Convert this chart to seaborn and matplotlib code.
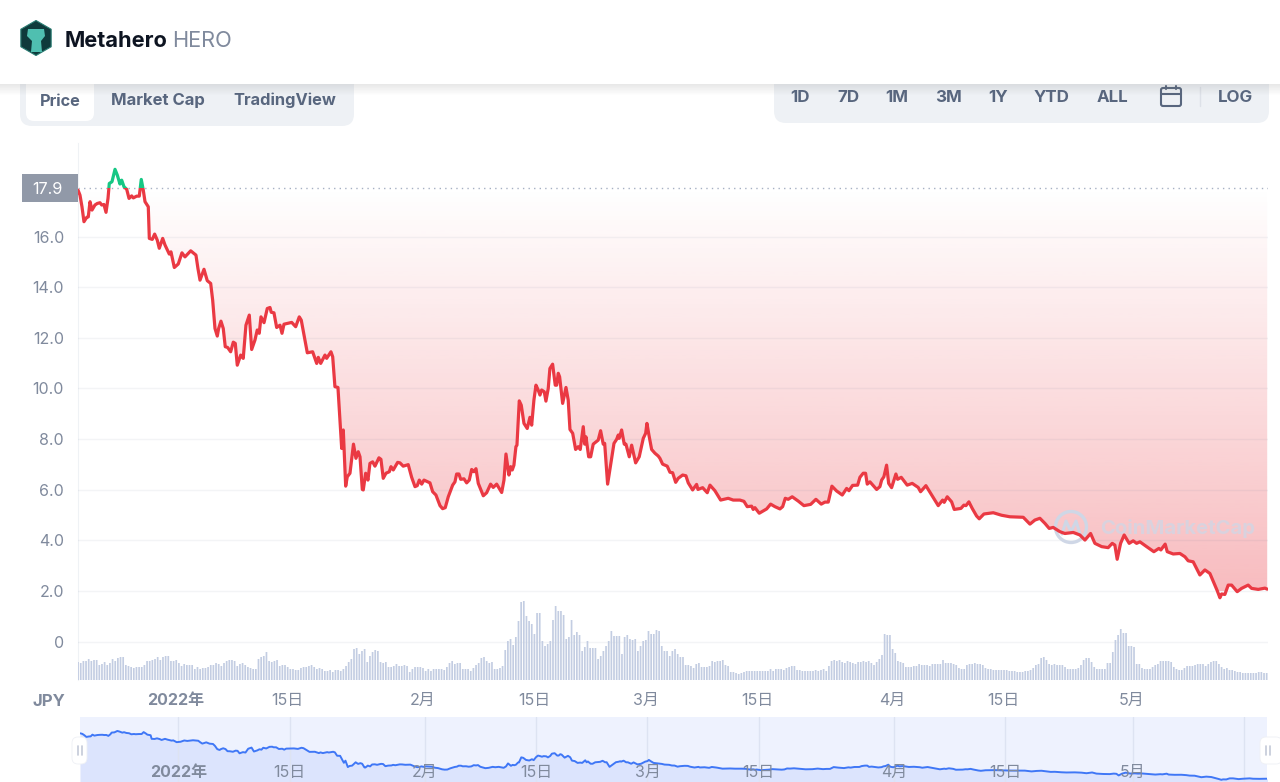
import numpy as np
import matplotlib
matplotlib.use('Agg')
import matplotlib.pyplot as plt
from matplotlib.patches import Rectangle, FancyBboxPatch, RegularPolygon, Polygon, Arc
import seaborn as sns

# price: days since 2022-01-01 and price in JPY
DAYS = [
    -12.31, -12.06, -11.81, -11.56, -11.22, -11.02, -10.80, -10.55, -10.18, -9.89, -9.55, -9.33, -9.05, -8.79,
    -8.54, -8.38, -8.04, -7.66, -7.37, -7.04, -6.82, -6.53, -6.19, -5.90, -5.57, -5.36, -4.94, -4.61, -4.36,
    -4.11, -3.89, -3.48, -3.35, -2.98, -2.68, -2.35, -2.10, -1.67, -1.38, -0.84, -0.63, -0.21, 0.29, 0.75, 1.13,
    1.85, 2.51, 2.76, 3.02, 3.52, 3.93, 4.36, 4.61, 4.90, 5.19, 5.36, 5.65, 5.94, 6.19, 6.49, 6.87, 7.20, 7.45,
    7.70, 8.13, 8.45, 8.79, 9.21, 9.51, 9.92, 10.21, 10.46, 10.68, 11.06, 11.47, 11.81, 11.97, 12.31, 12.65,
    13.07, 13.32, 13.57, 14.54, 15.04, 15.49, 15.74, 16.50, 17.17, 17.68, 17.88, 18.18, 18.72, 18.93, 19.47,
    19.69, 19.97, 20.35, 20.82, 21.02, 21.32, 21.52, 21.86, 22.30, 22.61, 22.90, 23.12, 23.41, 23.53, 23.83,
    24.12, 24.37, 24.71, 25.00, 25.50, 25.75, 26.04, 26.38, 26.80, 27.01, 27.30, 27.85, 28.14, 28.55, 29.18,
    29.61, 30.03, 30.31, 30.57, 30.87, 31.16, 31.91, 32.25, 32.66, 33.17, 33.50, 33.83, 34.21, 34.76, 35.05,
    35.26, 35.55, 35.77, 36.18, 36.52, 36.85, 37.15, 37.44, 37.69, 37.98, 38.61, 39.03, 39.53, 39.86, 40.29,
    40.92, 41.21, 41.46, 41.83, 42.05, 42.25, 42.46, 42.71, 42.84, 43.13, 43.38, 43.72, 44.13, 44.47, 44.69,
    44.97, 45.23, 45.48, 45.73, 45.94, 46.27, 46.48, 46.77, 46.98, 47.32, 47.65, 47.83, 48.03, 48.20, 48.58,
    49.00, 49.28, 49.50, 49.84, 50.21, 50.54, 50.79, 51.17, 51.35, 51.51, 51.85, 52.10, 52.42, 53.05, 53.35,
    53.68, 53.86, 54.23, 54.74, 55.03, 55.36, 55.57, 55.69, 55.99, 56.32, 56.53, 56.95, 57.25, 57.75, 58.20,
    58.71, 59.01, 59.17, 59.42, 59.76, 60.18, 60.59, 60.80, 61.14, 61.72, 62.06, 62.40, 62.78, 63.10, 63.66,
    64.07, 64.36, 64.91, 65.41, 65.58, 66.17, 66.75, 67.09, 67.71, 68.43, 68.97, 69.38, 70.01, 70.85, 71.36,
    71.77, 72.32, 72.52, 72.74, 73.28, 73.78, 74.21, 74.71, 75.25, 75.88, 76.22, 76.55, 76.92, 77.42, 78.18,
    78.89, 79.74, 80.40, 81.07, 81.53, 81.95, 82.41, 83.00, 83.71, 84.26, 84.55, 85.01, 85.64, 85.93, 86.34,
    86.64, 86.85, 87.19, 88.03, 88.44, 88.66, 88.94, 89.28, 89.54, 89.91, 90.45, 90.67, 91.12, 91.87, 92.50,
    93.25, 93.55, 94.22, 94.94, 95.77, 96.32, 96.52, 96.90, 97.45, 97.78, 98.62, 98.99, 99.25, 99.62, 100.04,
    100.59, 100.92, 101.51, 102.68, 103.73, 104.77, 106.45, 107.29, 107.91, 108.54, 109.17, 109.71, 110.21,
    111.06, 111.68, 112.73, 113.57, 114.20, 114.91, 115.45, 116.30, 117.12, 117.63, 117.96, 118.25, 118.68,
    119.13, 119.76, 120.26, 120.69, 121.11, 121.95, 122.86, 123.49, 123.74, 124.28, 124.54, 125.29, 126.13,
    126.76, 127.17, 127.80, 128.64, 129.27, 129.90, 130.53, 130.82, 131.16, 131.37, 131.78, 132.20, 132.63,
    133.33, 133.88, 134.71, 135.14, 135.97, 136.81, 137.10,
]
PRICE = [
    17.84, 17.64, 17.18, 16.59, 16.76, 16.78, 17.38, 17.05, 17.25, 17.31, 17.34, 17.25, 17.27, 16.96,
    17.51, 18.10, 18.17, 18.66, 18.43, 18.08, 18.23, 17.97, 17.87, 17.51, 17.61, 17.53, 17.60, 17.60, 18.26,
    17.84, 17.38, 17.18, 15.93, 15.89, 16.10, 15.86, 15.54, 15.93, 15.67, 15.31, 15.40, 14.78, 14.92, 15.36, 15.20,
    15.44, 15.27, 14.74, 14.28, 14.71, 14.26, 14.15, 13.49, 12.37, 12.07, 12.37, 12.66, 12.37, 11.65, 11.62, 11.45, 11.83, 11.78,
    10.92, 11.32, 11.19, 12.50, 12.90, 11.54, 11.91, 12.31, 12.18, 12.83, 12.60, 13.16, 13.20, 13.01, 12.99, 12.41,
    12.50, 12.18, 12.54, 12.61, 12.44, 12.83, 12.70, 11.41, 11.45, 10.99, 11.23, 10.99, 11.32, 11.19, 11.45,
    11.25, 10.07, 10.04, 7.63, 8.36, 6.14, 6.51, 6.65, 7.80, 7.24, 7.50, 7.30, 6.01, 5.99, 6.65,
    6.38, 7.04, 7.10, 6.93, 7.26, 7.20, 6.45, 6.65, 6.71, 6.91, 6.78, 7.08, 7.06, 6.93, 6.99,
    6.49, 6.12, 6.16, 6.38, 6.22, 6.38, 6.27, 5.92, 5.79, 5.37, 5.25, 5.29, 5.72, 6.18, 6.31,
    6.62, 6.62, 6.41, 6.43, 6.27, 6.38, 6.80, 6.71, 6.83, 6.25, 5.76, 5.88, 6.22, 6.09, 6.22,
    5.89, 6.38, 7.41, 6.58, 6.91, 6.78, 6.97, 7.70, 7.76, 9.51, 9.34, 8.62, 8.42, 8.86, 8.55,
    9.54, 10.13, 9.96, 9.74, 9.94, 9.87, 9.50, 10.00, 10.79, 10.96, 10.13, 10.13, 10.60, 10.46, 9.41,
    10.04, 9.54, 8.38, 8.23, 7.59, 7.70, 7.59, 8.49, 7.80, 8.09, 7.30, 7.30, 7.80, 7.96, 8.33,
    7.80, 7.83, 6.22, 7.24, 7.83, 7.99, 8.16, 8.03, 8.36, 7.80, 7.80, 7.30, 7.76, 7.06, 7.30,
    8.03, 8.23, 8.62, 8.16, 7.59, 7.44, 7.33, 7.24, 7.01, 6.93, 6.69, 6.67, 6.29, 6.45, 6.58,
    6.55, 6.27, 5.99, 6.21, 6.01, 6.08, 5.88, 6.18, 5.96, 5.59, 5.63, 5.66, 5.59, 5.59, 5.54,
    5.33, 5.35, 5.22, 5.29, 5.07, 5.16, 5.24, 5.43, 5.33, 5.24, 5.33, 5.66, 5.62, 5.72, 5.55,
    5.37, 5.42, 5.62, 5.43, 5.51, 5.51, 6.14, 5.95, 5.79, 6.05, 5.96, 6.17, 6.18, 6.49, 6.65,
    6.65, 6.22, 6.31, 6.01, 6.12, 6.38, 6.51, 6.97, 6.25, 6.08, 6.62, 6.41, 6.49, 6.18, 6.25,
    6.09, 5.92, 6.16, 5.79, 5.37, 5.59, 5.50, 5.72, 5.52, 5.22, 5.26, 5.39, 5.37, 5.52, 5.26,
    4.96, 4.85, 5.04, 5.09, 4.99, 4.93, 4.91, 4.64, 4.80, 4.87, 4.67, 4.47, 4.51,
    4.34, 4.27, 4.31, 4.21, 4.01, 4.27, 3.88, 3.75, 3.71, 3.88, 3.81, 3.25, 3.88,
    4.21, 3.88, 3.98, 3.88, 3.94, 3.75, 3.55, 3.68, 3.62, 3.85, 3.55, 3.46, 3.48,
    3.35, 3.19, 3.15, 2.63, 2.83, 2.69, 2.23, 2.01, 1.73, 1.88, 1.86, 2.23, 2.23,
    1.97, 2.10, 2.23, 2.10, 2.06, 2.11, 2.07,
]
BASELINE = 17.93

# volume bars, one every 8 hours, unit is arbitrary
VOL_FIRST_DAY = -12.3
VOLUME = [
    18, 17, 19, 19, 21, 19, 20, 20, 15, 16, 18, 15, 17, 21, 19, 22, 23, 23, 15, 14, 13, 12, 13, 13, 13, 15, 19, 19,
    20, 21, 23, 20, 23, 24, 24, 19, 19,
    20, 17, 14, 16, 15, 15, 15, 11, 13, 11, 12, 12, 13, 15, 15, 17, 16, 14, 17, 19, 20, 20, 19, 14, 16, 17, 15, 13,
    12, 11, 11, 21, 23, 24, 28, 19, 18, 19, 20, 14, 15, 15,
    13, 11, 11, 10, 10, 12, 13, 13, 14, 15, 13, 11, 12, 11, 9, 9, 10, 8, 10, 10, 9, 11, 14, 18, 21, 31, 32, 26, 29,
    31, 18, 24, 28, 30, 29, 18, 17, 18, 13, 13, 14, 16, 14, 14, 15, 14, 8, 11, 13, 13, 13,
    12, 9, 11, 9, 11, 11, 11, 11, 10, 13, 17, 19, 16, 17, 17, 11, 11, 11, 9, 12, 15, 17, 22, 23, 19, 17, 18, 11, 11,
    12, 14, 30, 39, 41, 35, 43, 59, 78, 79, 64, 59, 56,
    46, 67, 67, 39, 34, 36, 39, 60, 74, 69, 69, 65, 41, 43, 60, 45, 48, 45, 29, 33, 39, 32, 32, 32, 21, 24, 29, 34,
    39, 49, 44, 44, 44, 26, 43, 45, 41, 40, 41, 29, 34, 39,
    40, 49, 46, 46, 50, 49, 34, 29, 29, 24, 29, 31, 26, 23, 23, 15, 15, 14, 12, 16, 17, 13, 13, 13, 14, 19, 18, 19,
    19, 20, 15, 14, 8, 8, 7, 6, 7, 8, 9, 9, 9, 9,
    9, 9, 9, 9, 9, 11, 9, 11, 11, 11, 10, 12, 13, 14, 14, 10, 10, 9, 9, 9, 9, 9, 10, 9, 10, 11, 9, 14, 19, 20, 19,
    20, 18, 17, 19, 18, 17, 16, 18, 18, 19, 18, 19, 17, 15, 18, 21, 25, 46, 45,
    45, 31, 27, 19, 18, 17, 13, 13, 13, 14, 14, 16, 15, 15, 15, 14, 16, 16, 16, 16, 20, 17, 17, 17, 16, 15, 12, 11,
    11, 15, 16, 16, 17, 16, 16, 15, 12, 11, 11, 10, 10, 10,
    10, 10, 10, 9, 9, 9, 8, 8, 8, 9, 9, 10, 12, 15, 16, 22, 23, 20, 16, 15, 16, 15, 15, 15, 13, 11, 11, 11, 11, 12,
    15, 20, 22, 22, 18, 13, 11, 11, 11, 11, 17, 17, 28, 40, 45, 51, 47, 47,
    34, 34, 33, 16, 16, 12, 11, 11, 11, 13, 15, 16, 19, 19, 19, 19, 18, 13, 11, 10, 10, 12, 14, 14, 14, 15, 16, 16,
    16, 14, 16, 18, 19, 19, 16, 13, 11, 12, 10, 10, 9, 8, 8, 7, 7, 7, 7, 7, 7, 8, 8, 7, 7,
]

TICK_DAYS = [0, 14, 31, 45, 59, 73, 90, 104, 120]
TICK_LABELS = ['2022年', '15日', '2月', '15日', '3月', '15日', '4月', '15日', '5月']
OVERVIEW_LINES = [0, 14, 31, 45, 59, 73, 90, 104, 120, 134]
Y_TICKS = [0, 2, 4, 6, 8, 10, 12, 14, 16]
Y_LABELS = ['0', '2.0', '4.0', '6.0', '8.0', '10.0', '12.0', '14.0', '16.0']
RANGE_LABELS = ['1D', '7D', '1M', '3M', '1Y', 'YTD', 'ALL']
RANGE_X = [800, 848, 897, 948, 998, 1052, 1112]

RED = '#EA3943'
GREEN = '#16C784'
GREY = '#808A9D'
SLATE = '#58667E'
PANEL = '#EEF1F5'
W, H = 1280, 782

sns.set_style('white')
plt.rcParams['font.family'] = ['Inter', 'Noto Sans CJK JP', 'DejaVu Sans']
plt.rcParams['axes.unicode_minus'] = False


def px_axes(left, top, right, bottom):
    return fig.add_axes([left / W, 1 - bottom / H, (right - left) / W, (bottom - top) / H])


fig = plt.figure(figsize=(W / 100, H / 100), dpi=100, facecolor='white')

# page chrome, in pixel coordinates
bg = fig.add_axes([0, 0, 1, 1], zorder=0)
bg.set_xlim(0, W)
bg.set_ylim(H, 0)
bg.axis('off')
bg.add_patch(FancyBboxPatch((20, 70), 334, 56, boxstyle='round,pad=0,rounding_size=12', fc=PANEL, ec='none'))
bg.add_patch(FancyBboxPatch((26, 70), 68, 51, boxstyle='round,pad=0,rounding_size=8', fc='white', ec='none'))
bg.add_patch(FancyBboxPatch((774, 70), 495, 53, boxstyle='round,pad=0,rounding_size=12', fc=PANEL, ec='none'))
bg.add_patch(Rectangle((0, 0), W, 84, fc='white', ec='none'))
shadow = np.zeros((12, 1, 4))
shadow[:, :, :3] = 0.45
shadow[:, 0, 3] = np.linspace(0.16, 0, 12)
bg.imshow(shadow, extent=[0, W, 96, 84], aspect='auto', zorder=3)
bg.set_xlim(0, W)
bg.set_ylim(H, 0)

bg.add_patch(RegularPolygon((36, 38), 6, radius=17.5, fc='#0F3A3B', ec='#2A7D73', lw=0.8, zorder=4))
bg.add_patch(Polygon([[28, 29], [44, 29], [45, 36], [41, 41], [42, 52], [31, 52], [32, 41], [27, 36]],
                     fc='#4FBFB0', ec='none', zorder=5))
bg.text(65, 41, 'Metahero', fontsize=15.7, fontweight='bold', color='#0D1421', va='center', zorder=5)
bg.text(172, 41, 'HERO', fontsize=15.7, color=GREY, va='center', zorder=5)

for label, x, y, size in [('Price', 60, 101, 11.7), ('Market Cap', 157.5, 100, 12), ('TradingView', 285, 100, 11.8)]:
    bg.text(x, y, label, fontsize=size, fontweight='bold', color=SLATE, ha='center', va='center')
for label, x in zip(RANGE_LABELS, RANGE_X):
    bg.text(x, 98, label, fontsize=12.2, fontweight='bold', color=SLATE, ha='center', va='center')
bg.text(1235.5, 98, 'LOG', fontsize=12.2, fontweight='bold', color=SLATE, ha='center', va='center')
bg.plot([1200, 1200], [87, 106], color='#DDE1E8', lw=1)
bg.add_patch(FancyBboxPatch((1161, 88), 20, 18, boxstyle='round,pad=0,rounding_size=2', fc='none', ec=SLATE, lw=1.5))
bg.plot([1161, 1181], [94, 94], color=SLATE, lw=1.5)
bg.plot([1166, 1166], [86, 89], color=SLATE, lw=1.5)
bg.plot([1176, 1176], [86, 89], color=SLATE, lw=1.5)

# main price panel
XMIN, XMAX = -12.31, 137.2
YMIN, YMAX = -1.52, 19.7
ax = px_axes(78, 143, 1268, 680)
ax.patch.set_alpha(0)
ax.set_zorder(1)

top_line = np.minimum(PRICE, BASELINE)
area = ax.fill_between(DAYS, top_line, BASELINE, facecolor='none', edgecolor='none')
grad = np.zeros((256, 1, 4))
grad[:, 0, :3] = matplotlib.colors.to_rgb(RED)
grad[:, 0, 3] = np.linspace(0, 0.34, 256)
im = ax.imshow(grad, extent=[XMIN, XMAX, 2.0, BASELINE], aspect='auto', zorder=1)
im.set_clip_path(area.get_paths()[0], transform=ax.transData)

sns.lineplot(x=DAYS, y=PRICE, ax=ax, color=RED, lw=2.3, estimator=None, sort=False, zorder=4)
red_line = ax.lines[-1]
sns.lineplot(x=DAYS, y=PRICE, ax=ax, color=GREEN, lw=2.3, estimator=None, sort=False, zorder=4)
green_line = ax.lines[-1]
ax.set_xlim(XMIN, XMAX)
ax.set_ylim(YMIN, YMAX)
red_line.set_clip_path(Rectangle((XMIN, YMIN), XMAX - XMIN, BASELINE - YMIN, transform=ax.transData))
green_line.set_clip_path(Rectangle((XMIN, BASELINE), XMAX - XMIN, YMAX - BASELINE, transform=ax.transData))
ax.axhline(BASELINE, color='#A6B0C3', lw=1, ls=(0, (1, 3)), zorder=2)

ax.set_yticks(Y_TICKS)
ax.set_yticklabels(Y_LABELS, fontsize=11.5, color=GREY)
ax.set_xticks(TICK_DAYS)
ax.set_xticklabels(TICK_LABELS, fontsize=11.5, color=GREY)
ax.get_xticklabels()[0].set_fontweight('bold')
ax.tick_params(axis='y', length=0, pad=10)
ax.tick_params(axis='x', length=3.5, width=1, color='#6B7486', pad=5.8)
ax.grid(True, axis='y', color='#5A6E8C', alpha=0.07, lw=1, zorder=3)
ax.grid(False, axis='x')
ax.set_axisbelow(False)
for side in ['top', 'right', 'bottom']:
    ax.spines[side].set_visible(False)
ax.spines['left'].set_color('#EFF2F5')
ax.set_xlabel('')
ax.set_ylabel('')

# volume bars under the price line
ax_vol = px_axes(78, 590, 1268, 680)
ax_vol.patch.set_alpha(0)
ax_vol.set_zorder(2)
vol_days = VOL_FIRST_DAY + np.arange(len(VOLUME)) / 3
sns.barplot(x=vol_days, y=VOLUME, ax=ax_vol, native_scale=True, color='#C3CDE2', saturation=1, width=0.64)
for bar in ax_vol.patches:
    bar.set_snap(False)
    bar.set_linewidth(0)
ax_vol.set_xlim(XMIN, XMAX)
ax_vol.set_ylim(0, 90)
ax_vol.axis('off')

# overview strip at the bottom
ov = px_axes(80, 717, 1267, 782)
ov.set_zorder(1)
ov.set_facecolor('#EEF2FE')
ov.fill_between(DAYS, PRICE, 0, color='#DCE4FD', lw=0, zorder=1)
sns.lineplot(x=DAYS, y=PRICE, ax=ov, color='#3F77F6', lw=1.4, estimator=None, sort=False, zorder=3)
ov.set_xlim(-12.36, 136.9)
ov.set_ylim(0.97, 23.5)
for day in OVERVIEW_LINES:
    ov.axvline(day, color='#DDE3F2', lw=1, zorder=2)
for day, label in zip(TICK_DAYS, TICK_LABELS):
    ov.text(day, 0.14, label, transform=ov.get_xaxis_transform(), fontsize=11.5, color=GREY, ha='center',
            va='center', fontweight='bold' if label == '2022年' else 'normal', zorder=4)
ov.set_xticks([])
ov.set_yticks([])
ov.set_xlabel('')
ov.set_ylabel('')
sns.despine(ax=ov, left=True, bottom=True)

# top layer in pixel coordinates: price flag, watermark, slider handles
fg = fig.add_axes([0, 0, 1, 1], zorder=5)
fg.set_xlim(0, W)
fg.set_ylim(H, 0)
fg.axis('off')
fg.add_patch(Rectangle((22, 174), 56, 28, fc='#9199A8', ec='none'))
fg.text(47.5, 189.5, '17.9', fontsize=11.7, color='white', ha='center', va='center')
fg.text(65, 701, 'JPY', fontsize=12, fontweight='bold', color=GREY, ha='right', va='center')
for x0, x1 in [(72, 87), (1260, 1282)]:
    fg.add_patch(FancyBboxPatch((x0, 737), x1 - x0, 27, boxstyle='round,pad=0,rounding_size=6', fc='white', ec='#EEF0F5', lw=0.6))
    mid = x0 + 7.5
    fg.plot([mid - 2, mid - 2], [746, 755], color='#C3CAD8', lw=1.2)
    fg.plot([mid + 2, mid + 2], [746, 755], color='#C3CAD8', lw=1.2)

mark = '#CFD7E6'
ax.text(1100, 529, 'CoinMarketCap', transform=fg.transData, fontsize=14.6, fontweight='bold', color=mark,
        alpha=0.75, va='center', ha='left', zorder=3, clip_on=False)
ax.add_patch(Arc((1071, 527), 31, 31, theta1=0, theta2=360, transform=fg.transData, color=mark, lw=2.4, zorder=3))
ax.plot([1062, 1066, 1071, 1076, 1080], [534, 521, 532, 521, 534], transform=fg.transData, color=mark, lw=2.2, zorder=3)

fig.savefig('out.png', dpi=100)
